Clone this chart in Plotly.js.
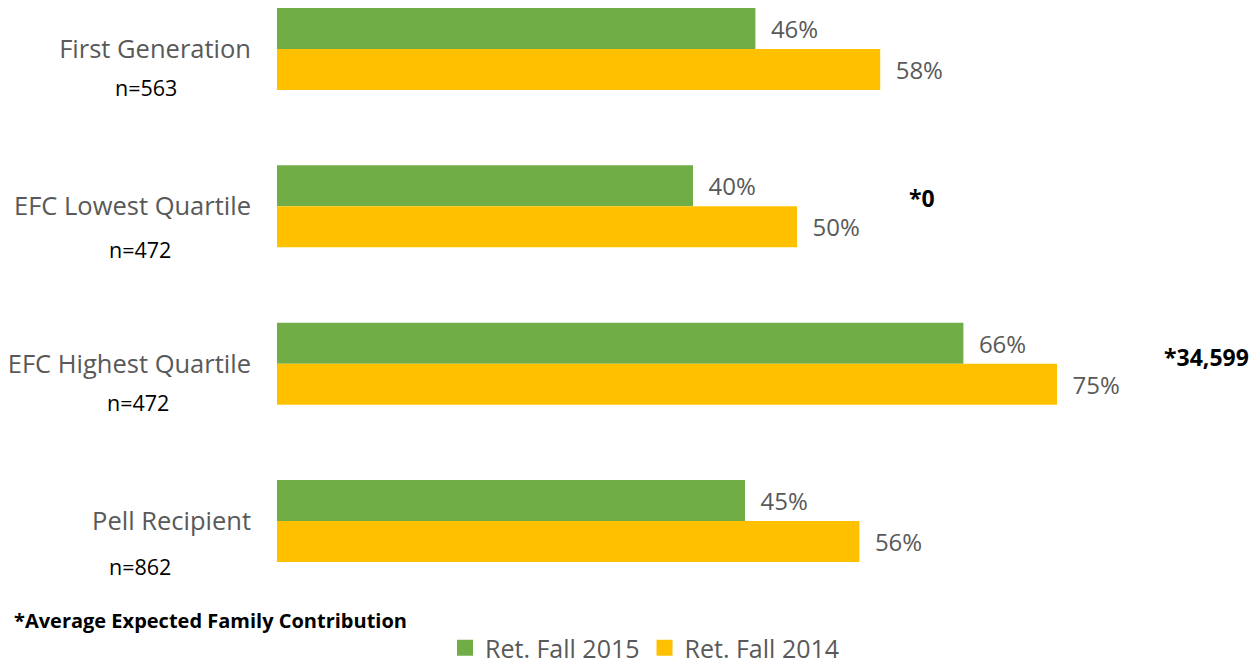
<!DOCTYPE html>
<html>
<head>
<meta charset="utf-8">
<script src="https://cdn.plot.ly/plotly-3.0.1.min.js"></script>
<style>html,body{margin:0;padding:0;background:#fff;}#chart{width:1254px;height:667px;}</style>
</head>
<body>
<div id="chart"></div>
<script>
// ---- data ----
const categories = ["First Generation", "EFC Lowest Quartile", "EFC Highest Quartile", "Pell Recipient"];
const nLabels = ["n=563", "n=472", "n=472", "n=862"];
const seriesNames = ["Ret. Fall 2015", "Ret. Fall 2014"];
const retFall2015 = [46, 40, 66, 45];
const retFall2014 = [58, 50, 75, 56];
const efcNotes = [null, "*0", "*34,599", null];
const footnote = "*Average Expected Family Contribution";

// ---- styling ----
const W = 1254, H = 667;
const mL = 277, mR = 0, mT = 0, mB = 77;
const plotW = W - mL - mR, plotH = H - mT - mB;
const pxPerUnit = 10.4;
const green = "#70AD47", yellow = "#FFC000", gray = "#595959";
const font = "'Open Sans', Lato, sans-serif";
const catIdx = categories.map((c, i) => i);
const px2paperX = px => (px - mL) / plotW;
const px2paperY = py => (H - mB - py) / plotH;
const nX = [146, 140, 138, 140];
const nShift = [-38, -43, -39, -45];
const noteX = [null, 922, 1206, null];
const noteShift = [null, 8, 7, null];
const colors = [green, yellow];
const values = [retFall2015, retFall2014];

const nb = "\u00A0\u00A0";
const traces = [];
values.forEach((vals, k) => {
  traces.push({type: "bar", orientation: "h", name: seriesNames[k], y: catIdx, x: vals,
    marker: {color: colors[k]}, text: vals.map(v => nb + v + "%"),
    textposition: "outside", cliponaxis: false, showlegend: false,
    textfont: {family: font, size: 24, color: gray}, hoverinfo: "skip"});
});
// legend entries (no data drawn) so the legend squares can be larger
values.forEach((vals, k) => {
  traces.push({type: "scatter", mode: "markers", name: seriesNames[k], x: [null], y: [null],
    marker: {color: colors[k], symbol: "square", size: 18}, hoverinfo: "skip"});
});

const annotations = [];
categories.forEach((c, i) => {
  annotations.push({text: nLabels[i], xref: "paper", yref: "y", x: px2paperX(nX[i]), y: i,
    yshift: nShift[i], showarrow: false, xanchor: "center", yanchor: "middle",
    font: {family: font, size: 21.5, color: "#000"}});
  if (efcNotes[i]) annotations.push({text: "<b>" + efcNotes[i] + "</b>", xref: "paper", yref: "y",
    x: px2paperX(noteX[i]), y: i, yshift: noteShift[i], showarrow: false,
    xanchor: "center", yanchor: "middle", font: {family: font, size: 23, color: "#000"}});
});
annotations.push({text: "<b>" + footnote + "</b>", xref: "paper", yref: "paper",
  x: px2paperX(12), y: px2paperY(620), xanchor: "left", yanchor: "middle",
  showarrow: false, font: {family: font, size: 20, color: "#000"}});

const yTop = -49 / 157.33, yBot = 3 + (590 - 521) / 157.33;
const layout = {
  width: W, height: H, margin: {l: mL, r: mR, t: mT, b: mB, autoexpand: false},
  paper_bgcolor: "#fff", plot_bgcolor: "#fff",
  font: {family: font, color: gray},
  barmode: "group", bargap: 0.479, bargroupgap: 0,
  xaxis: {range: [0, plotW / pxPerUnit], showgrid: false, zeroline: false, showline: false,
          showticklabels: false, ticks: ""},
  yaxis: {range: [yBot, yTop], tickvals: catIdx, ticktext: categories, showgrid: false,
          zeroline: false, showline: false, ticks: "", ticklabelstandoff: 25,
          tickfont: {family: font, size: 25.5, color: gray}},
  showlegend: true,
  legend: {orientation: "h", xref: "paper", yref: "paper", x: px2paperX(645), xanchor: "center",
           y: px2paperY(648), yanchor: "middle", font: {family: font, size: 25, color: gray},
           traceorder: "normal", itemwidth: 30},
  annotations: annotations
};
Plotly.newPlot("chart", traces, layout, {displayModeBar: false, staticPlot: true});
</script>
</body>
</html>
